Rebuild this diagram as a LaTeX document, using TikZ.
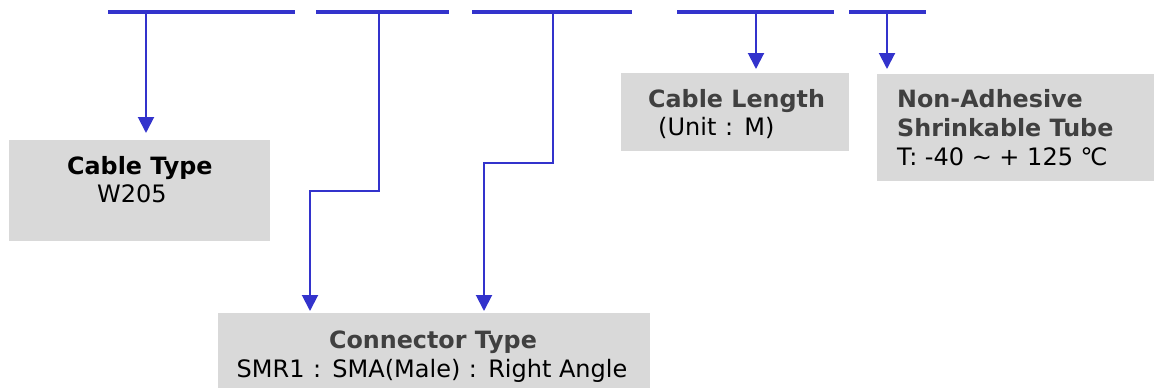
\documentclass[tikz,border=0pt]{standalone}
\usepackage{fontspec}
\setmainfont{DejaVu Sans}
\usetikzlibrary{arrows.meta}
\definecolor{lineblue}{RGB}{51,51,204}
\definecolor{boxgray}{RGB}{217,217,217}
\definecolor{headgray}{RGB}{64,64,64}
\begin{document}
\begin{tikzpicture}[x=1pt,y=-1pt,
  bar/.style={draw=lineblue,line width=4.7pt},
  lead/.style={draw=lineblue,line width=2pt,-{Triangle[length=16pt,width=16pt]}},
  box/.style={fill=boxgray,draw=none,anchor=north west,inner sep=0pt},
  txt/.style={anchor=base west,inner sep=0pt,font=\fontsize{24}{28}\selectfont},
  head/.style={txt,font=\fontsize{23.8}{28}\selectfont\bfseries,text=headgray}]
\useasboundingbox (0,0) rectangle (1154,388);
% boxes
\node[box,minimum width=261pt,minimum height=101pt] (b1) at (9,140) {};
\node[box,minimum width=228pt,minimum height=78pt] (b2) at (621,73) {};
\node[box,minimum width=277pt,minimum height=107pt] (b3) at (877,74) {};
\node[box,minimum width=432pt,minimum height=75pt] (b4) at (218,313) {};
% bars
\coordinate (bar1l) at (108,12); \coordinate (bar1r) at (295,12);
\coordinate (bar2l) at (316,12); \coordinate (bar2r) at (449,12);
\coordinate (bar3l) at (472,12); \coordinate (bar3r) at (632,12);
\coordinate (bar4l) at (677,12); \coordinate (bar4r) at (834,12);
\coordinate (bar5l) at (849,12); \coordinate (bar5r) at (926,12);
\draw[bar] (bar1l) -- (bar1r);
\draw[bar] (bar2l) -- (bar2r);
\draw[bar] (bar3l) -- (bar3r);
\draw[bar] (bar4l) -- (bar4r);
\draw[bar] (bar5l) -- (bar5r);
% taps
\coordinate (t1) at (146,12);
\coordinate (t2) at (379,12);
\coordinate (t3) at (553,12);
\coordinate (t4) at (756,12);
\coordinate (t5) at (887,12);
\coordinate (k2) at (310,191);
\coordinate (k3) at (484,163);
\draw[lead,shorten >=7pt] (t1) -- (t1 |- b1.north);
\draw[lead,shorten >=2pt] (t2) |- (k2) -- (k2 |- b4.north);
\draw[lead,shorten >=2pt] (t3) |- (k3) -- (k3 |- b4.north);
\draw[lead,shorten >=4pt] (t4) -- (t4 |- b2.north);
\draw[lead,shorten >=5pt] (t5) -- (t5 |- b3.north);
% texts
\node[head,text=black] (n1a) at (67,174) {Cable Type};
\node[txt] (n1b) at (97,202) {W205};
\node[head] (n2a) at (648,107) {Cable Length};
\node[txt] (n2b) at (658,135) {(Unit\hspace{1pt} :\hspace{1pt} M)};
\node[head] (n3a) at (897,107) {Non-Adhesive};
\node[head] (n3b) at (897,136) {Shrinkable Tube};
\node[txt] (n3c) at (897,165) {T: -40 \textasciitilde{} + 125 ℃};
\node[head,anchor=base] (n4a) at (433,348) {Connector Type};
\node[txt,anchor=base] (n4b) at (432,377) {SMR1\hspace{1pt} :\hspace{1pt} SMA(Male)\hspace{1pt} :\hspace{1pt} Right Angle};
\end{tikzpicture}
\end{document}
